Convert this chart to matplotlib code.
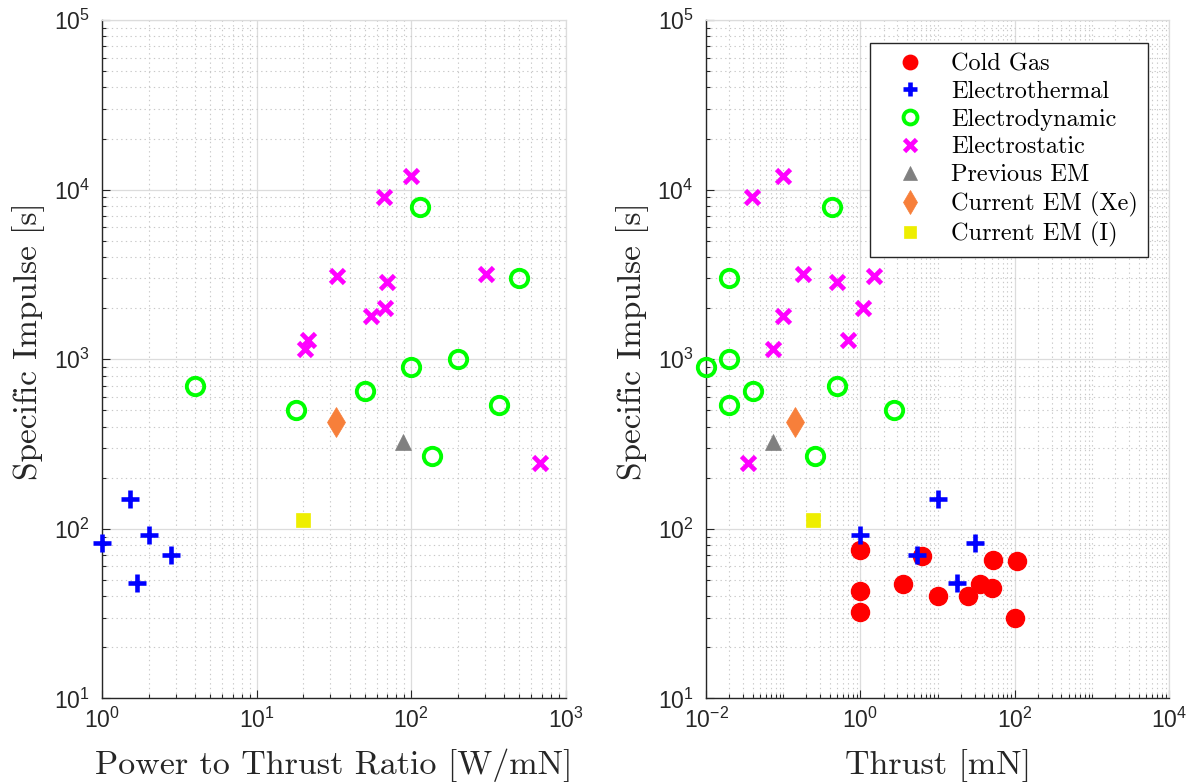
import matplotlib
matplotlib.use('Agg')
import matplotlib.pyplot as plt
from matplotlib.ticker import FixedLocator, LogLocator, NullFormatter, LogFormatterSciNotation

# ---------------- data ----------------
categories = ['Cold Gas', 'Electrothermal', 'Electrodynamic', 'Electrostatic',
              'Previous EM', 'Current EM (Xe)', 'Current EM (I)']

coldgas_thrust = [1.0, 6.2, 52, 108, 3.6, 1.0, 10, 25, 35, 50, 1.0, 100]
coldgas_isp = [75, 69, 65.7, 65, 47, 43, 40, 40, 47, 45, 32.5, 30]

ethermal_pt = [1.5, 2.0, 1.0, 2.8, 1.67]
ethermal_thrust = [10, 1.0, 30, 5.4, 18]
ethermal_isp = [150, 92, 83, 70, 48]

edynamic_pt = [113.5, 499, 200, 100, 4.0, 50, 373, 18, 136.5]
edynamic_thrust = [0.43, 0.02, 0.02, 0.01, 0.5, 0.04, 0.02, 2.73, 0.26]
edynamic_isp = [7900, 3000, 1000, 900, 700, 650, 540, 500, 268]

estatic_pt = [100, 67, 33.2, 70, 304, 67.7, 54.8, 21.4, 20.4, 684]
estatic_thrust = [0.1, 0.039, 1.5, 0.5, 0.178, 1.09, 0.1, 0.69, 0.074, 0.0353]
estatic_isp = [12000, 9000, 3100, 2850, 3200, 2000, 1800, 1300, 1150, 243]

prev_em_pt = [89]
prev_em_thrust = [0.074]
prev_em_isp = [324]

cur_xe_pt = [32.4]
cur_xe_thrust = [0.141]
cur_xe_isp = [428]

cur_i_pt = [20]
cur_i_thrust = [0.243]
cur_i_isp = [112]

left_xticks = [1, 10, 100, 1000]
right_xticks = [1e-2, 1, 1e2, 1e4]
yticks = [10, 100, 1000, 10000, 100000]

# ---------------- styles ----------------
plt.rcParams['font.family'] = ['Liberation Sans', 'DejaVu Sans']
plt.rcParams['mathtext.fontset'] = 'custom'
plt.rcParams['mathtext.rm'] = 'Liberation Sans'
plt.rcParams['mathtext.it'] = 'Liberation Sans:italic'
plt.rcParams['mathtext.bf'] = 'Liberation Sans:bold'

styles = {
    'Cold Gas': dict(marker='o', color='#ff0000', ms=13, mew=1.0, mfc='#ff0000'),
    'Electrothermal': dict(marker='+', color='#0000ff', ms=12.5, mew=3.3),
    'Electrodynamic': dict(marker='o', color='#00ff00', ms=12.5, mew=2.8, mfc='none'),
    'Electrostatic': dict(marker='x', color='#ff00ff', ms=10, mew=3.4),
    'Previous EM': dict(marker='^', color='#808080', ms=12, mew=0.5, mfc='#808080'),
    'Current EM (Xe)': dict(marker='d', color='#f77f3a', ms=15, mew=0.5, mfc='#f77f3a'),
    'Current EM (I)': dict(marker='s', color='#eeee00', ms=10.5, mew=0.5, mfc='#eeee00'),
}

xlabel_font = dict(family='cmr10', size=24.5, color='#262626')
ylabel_font = dict(family='cmr10', size=24, color='#262626')

fig = plt.figure(figsize=(11.91, 7.84), dpi=100)
ax1 = fig.add_axes([0.0859, 0.1091, 0.389, 0.8654])
ax2 = fig.add_axes([0.5928, 0.1091, 0.389, 0.8654])


def pl(ax, x, y, name):
    st = styles[name]
    h, = ax.plot(x, y, linestyle='none', marker=st['marker'], color=st['color'],
                 markersize=st['ms'], markeredgewidth=st['mew'],
                 markerfacecolor=st.get('mfc', st['color']), clip_on=False, zorder=3,
                 label=name)
    return h


# left plot: power-to-thrust ratio vs specific impulse
pl(ax1, ethermal_pt, ethermal_isp, 'Electrothermal')
pl(ax1, edynamic_pt, edynamic_isp, 'Electrodynamic')
pl(ax1, estatic_pt, estatic_isp, 'Electrostatic')
pl(ax1, prev_em_pt, prev_em_isp, 'Previous EM')
pl(ax1, cur_xe_pt, cur_xe_isp, 'Current EM (Xe)')
pl(ax1, cur_i_pt, cur_i_isp, 'Current EM (I)')

# right plot: thrust vs specific impulse
handles = []
handles.append(pl(ax2, coldgas_thrust, coldgas_isp, 'Cold Gas'))
handles.append(pl(ax2, ethermal_thrust, ethermal_isp, 'Electrothermal'))
handles.append(pl(ax2, edynamic_thrust, edynamic_isp, 'Electrodynamic'))
handles.append(pl(ax2, estatic_thrust, estatic_isp, 'Electrostatic'))
handles.append(pl(ax2, prev_em_thrust, prev_em_isp, 'Previous EM'))
handles.append(pl(ax2, cur_xe_thrust, cur_xe_isp, 'Current EM (Xe)'))
handles.append(pl(ax2, cur_i_thrust, cur_i_isp, 'Current EM (I)'))

for ax, xt, xlabel in ((ax1, left_xticks, 'Power to Thrust Ratio [W/mN]'),
                       (ax2, right_xticks, 'Thrust [mN]')):
    ax.set_xscale('log')
    ax.set_yscale('log')
    ax.set_xlim(xt[0], xt[-1])
    ax.set_ylim(yticks[0], yticks[-1])
    ax.xaxis.set_major_locator(FixedLocator(xt))
    ax.yaxis.set_major_locator(FixedLocator(yticks))
    ax.xaxis.set_major_formatter(LogFormatterSciNotation())
    ax.yaxis.set_major_formatter(LogFormatterSciNotation())
    ax.xaxis.set_minor_locator(LogLocator(base=10, subs=[1, 2, 3, 4, 5, 6, 7, 8, 9], numticks=30))
    ax.yaxis.set_minor_locator(LogLocator(base=10, subs=[2, 3, 4, 5, 6, 7, 8, 9], numticks=30))
    ax.xaxis.set_minor_formatter(NullFormatter())
    ax.yaxis.set_minor_formatter(NullFormatter())
    ax.grid(True, which='major', color='#dcdcdc', linewidth=0.9, linestyle='-', zorder=0)
    ax.grid(True, which='minor', color='#c8c8c8', linewidth=0.8, linestyle=(0, (1.2, 3.0)), zorder=0)
    ax.set_axisbelow(True)
    for s in ('left', 'bottom'):
        ax.spines[s].set_color('#262626')
        ax.spines[s].set_linewidth(1.0)
    for s in ('top', 'right'):
        ax.spines[s].set_color('#dcdcdc')
        ax.spines[s].set_linewidth(0.9)
    ax.tick_params(which='both', direction='in', top=False, right=False,
                   color='#262626', width=0.8)
    ax.tick_params(which='major', length=6, labelsize=16.5, labelcolor='#262626')
    ax.tick_params(axis='x', which='major', pad=7)
    ax.tick_params(axis='y', which='major', pad=9)
    ax.tick_params(which='minor', length=3)
    ax.set_xlabel(xlabel, fontdict=xlabel_font)
    ax.set_ylabel('Specific Impulse [s]', fontdict=ylabel_font)
    ax.xaxis.set_label_coords(0.5, -0.074)
    ax.yaxis.set_label_coords(-0.124, 0.527)

leg = ax2.legend(handles=handles, loc='upper right',
                 bbox_to_anchor=(1147.6 / 1191, 1 - 43.3 / 784),
                 bbox_transform=fig.transFigure, borderaxespad=0,
                 prop=dict(family='cmr10', size=17.5), fancybox=False, framealpha=1,
                 edgecolor='#262626', markerscale=0.8, handlelength=2.55,
                 handletextpad=0.4, labelspacing=0.23, borderpad=0.4, numpoints=1)
leg.get_frame().set_linewidth(1.0)

fig.savefig('out.png', dpi=100)
